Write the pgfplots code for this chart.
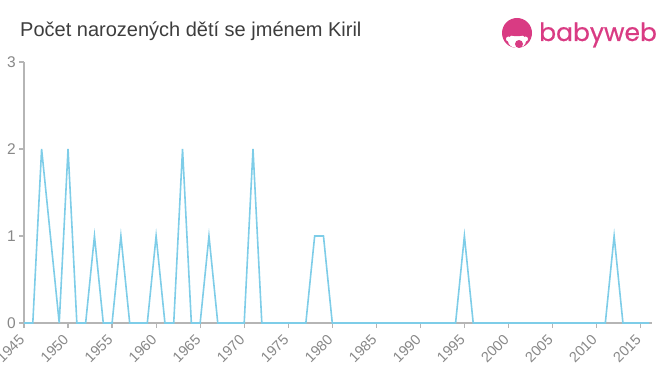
\documentclass[border=0pt]{standalone}
\usepackage{pgfplots}
\pgfplotsset{compat=1.18}
\usepackage{fontspec}
\setmainfont{Liberation Sans}
\newfontfamily\logofont[FakeBold=0.6]{Poppins}
\definecolor{linec}{HTML}{7ECDE8}
\definecolor{axc}{HTML}{B5B5B5}
\definecolor{tickc}{HTML}{888888}
\definecolor{titc}{HTML}{3D3D3D}
\definecolor{pinkc}{HTML}{D93B83}
\pgfplotstableread{
year v
1945 0
1946 0
1947 2
1948 1
1949 0
1950 2
1951 0
1952 0
1953 1
1954 0
1955 0
1956 1
1957 0
1958 0
1959 0
1960 1
1961 0
1962 0
1963 2
1964 0
1965 0
1966 1
1967 0
1968 0
1969 0
1970 0
1971 2
1972 0
1973 0
1974 0
1975 0
1976 0
1977 0
1978 1
1979 1
1980 0
1981 0
1982 0
1983 0
1984 0
1985 0
1986 0
1987 0
1988 0
1989 0
1990 0
1991 0
1992 0
1993 0
1994 0
1995 1
1996 0
1997 0
1998 0
1999 0
2000 0
2001 0
2002 0
2003 0
2004 0
2005 0
2006 0
2007 0
2008 0
2009 0
2010 0
2011 0
2012 1
2013 0
2014 0
2015 0
2016 0
}\datatab
\begin{document}
\begin{tikzpicture}[x=1pt,y=1pt]
\useasboundingbox (-24,-52) rectangle (636,323);
\begin{axis}[
  at={(0,0)}, anchor=south west,
  scale only axis, width=628pt, height=261pt,
  xmin=1945, xmax=2016.3, ymin=0, ymax=3,
  axis lines*=left,
  axis line style={axc, line width=1.5pt},
  xtick={1945,1950,...,2015}, ytick={0,1,2,3},
  tick align=outside, major tick length=5pt,
  tick style={axc, line width=1.2pt},
  x tick label style={/pgf/number format/1000 sep={}, xshift=-2pt, yshift=-9pt, rotate=45, anchor=east, inner sep=0pt, font=\fontsize{14.5}{14.5}\selectfont, text=tickc},
  y tick label style={font=\fontsize{15.5}{15.5}\selectfont, text=tickc, inner sep=0pt, xshift=-3pt},
  /pgf/number format/assume math mode=true,
  clip=false,
]
\addplot[linec, line width=1.6pt, mark=none] table[x=year,y=v] {\datatab};
\end{axis}
\node[anchor=base west, inner sep=0pt, text=titc, font=\fontsize{20}{20}\selectfont] at (-4,286) {Počet narozených dětí se jménem Kiril};
% logo
\fill[pinkc] (493,290) circle (15);
\fill[white] (493,282) ellipse (9 and 7);
\fill[white] (484.5,284) circle (2.5);
\fill[white] (501.5,284) circle (2.5);
\fill[pinkc] (493,290) ellipse (9.5 and 3.2);
\fill[pinkc] (495,279) circle (4);
\node[anchor=base west, text=pinkc, font=\logofont\fontsize{25}{25}\selectfont, inner sep=0pt] at (515,282) {babyweb};
\end{tikzpicture}
\end{document}
